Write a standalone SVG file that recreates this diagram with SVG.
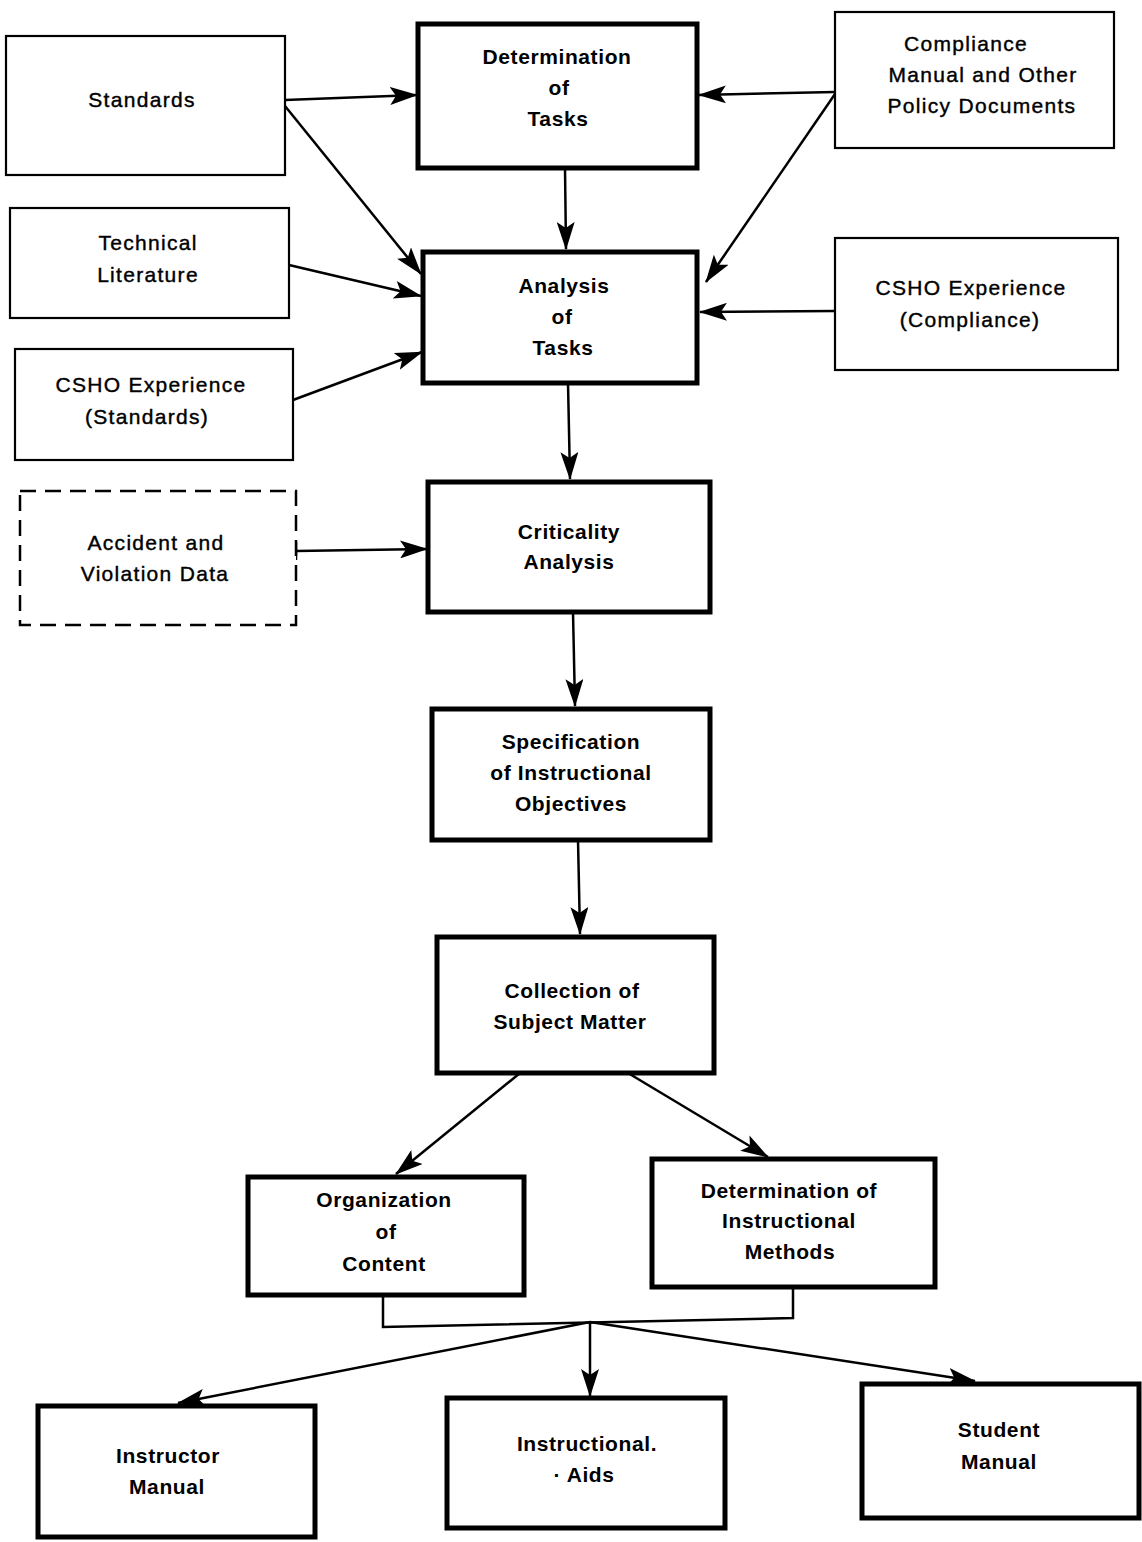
<svg xmlns="http://www.w3.org/2000/svg" width="1142" height="1542" viewBox="0 0 1142 1542">
<defs>
<marker id="ah" viewBox="0 0 28 18" refX="27" refY="9" markerWidth="28" markerHeight="18" markerUnits="userSpaceOnUse" orient="auto">
<path d="M0,0 L28,9 L0,18 L6,9 Z" fill="#000"/>
</marker>
<style>
.thin{fill:#fff;stroke:#000;stroke-width:2.2}
.thick{fill:#fff;stroke:#000;stroke-width:5}
.dash{fill:#fff;stroke:#000;stroke-width:2.5;stroke-dasharray:16 9}
.t{font-family:"Liberation Sans",Arial,sans-serif;font-size:21px;font-weight:bold;text-anchor:middle;fill:#000;letter-spacing:0.6px}
.tn{font-family:"Liberation Sans",Arial,sans-serif;font-size:21px;text-anchor:middle;fill:#000;letter-spacing:1.3px;stroke:#000;stroke-width:0.4}
.c{fill:none;stroke:#000;stroke-width:2.5;marker-end:url(#ah)}
.l{fill:none;stroke:#000;stroke-width:2.5}
</style>
</defs>
<rect width="1142" height="1542" fill="#fff"/>

<g id="connectors">
<line class="c" x1="285" y1="100" x2="417" y2="95"/>
<line class="c" x1="285" y1="106" x2="421" y2="274"/>
<line class="c" x1="289" y1="265" x2="421" y2="296"/>
<line class="c" x1="293" y1="400" x2="422" y2="352"/>
<line class="c" x1="835" y1="92" x2="699" y2="95"/>
<line class="c" x1="835" y1="94" x2="706" y2="282"/>
<line class="c" x1="835" y1="311" x2="700" y2="312"/>
<line class="c" x1="565" y1="168" x2="566" y2="249"/>
<line class="c" x1="568" y1="383" x2="570" y2="479"/>
<line class="l" x1="296" y1="542" x2="296" y2="560"/>
<line class="c" x1="296" y1="551" x2="427" y2="549"/>
<line class="c" x1="573" y1="612" x2="575" y2="706"/>
<line class="c" x1="578" y1="840" x2="580" y2="934"/>
<line class="c" x1="520" y1="1073" x2="396" y2="1174"/>
<line class="c" x1="628" y1="1073" x2="768" y2="1157"/>
<polyline class="l" points="383,1295 383,1327 793,1318 793,1287"/>
<line class="c" x1="590" y1="1322" x2="178" y2="1403"/>
<line class="c" x1="590" y1="1322" x2="590" y2="1396"/>
<line class="c" x1="590" y1="1322" x2="975" y2="1381"/>
</g>

<g id="standards">
<rect class="thin" x="6" y="36" width="279" height="139"/>
<text class="tn" x="142" y="107">Standards</text>
</g>
<g id="determination-of-tasks">
<rect class="thick" x="418" y="24" width="279" height="144"/>
<text class="t" x="557" y="64">Determination</text>
<text class="t" x="559" y="95">of</text>
<text class="t" x="558" y="126">Tasks</text>
</g>
<g id="compliance-manual">
<rect class="thin" x="835" y="12" width="279" height="136"/>
<text class="tn" x="966" y="51">Compliance</text>
<text class="tn" x="983" y="82">Manual and Other</text>
<text class="tn" x="982" y="113">Policy Documents</text>
</g>
<g id="technical-literature">
<rect class="thin" x="10" y="208" width="279" height="110"/>
<text class="tn" x="148" y="250">Technical</text>
<text class="tn" x="148" y="282">Literature</text>
</g>
<g id="analysis-of-tasks">
<rect class="thick" x="423" y="252" width="274" height="131"/>
<text class="t" x="564" y="293">Analysis</text>
<text class="t" x="562" y="324">of</text>
<text class="t" x="563" y="355">Tasks</text>
</g>
<g id="csho-compliance">
<rect class="thin" x="835" y="238" width="283" height="132"/>
<text class="tn" x="971" y="295">CSHO Experience</text>
<text class="tn" x="970" y="327">(Compliance)</text>
</g>
<g id="csho-standards">
<rect class="thin" x="15" y="349" width="278" height="111"/>
<text class="tn" x="151" y="392">CSHO Experience</text>
<text class="tn" x="147" y="424">(Standards)</text>
</g>
<g id="accident-data">
<rect class="dash" x="20" y="491" width="276" height="134"/>
<text class="tn" x="156" y="550">Accident and</text>
<text class="tn" x="155" y="581">Violation Data</text>
</g>
<g id="criticality-analysis">
<rect class="thick" x="428" y="482" width="282" height="130"/>
<text class="t" x="569" y="539">Criticality</text>
<text class="t" x="569" y="569">Analysis</text>
</g>
<g id="specification">
<rect class="thick" x="432" y="709" width="278" height="131"/>
<text class="t" x="571" y="749">Specification</text>
<text class="t" x="571" y="780">of Instructional</text>
<text class="t" x="571" y="811">Objectives</text>
</g>
<g id="collection">
<rect class="thick" x="437" y="937" width="277" height="136"/>
<text class="t" x="572" y="998">Collection of</text>
<text class="t" x="570" y="1029">Subject Matter</text>
</g>
<g id="organization">
<rect class="thick" x="248" y="1177" width="276" height="118"/>
<text class="t" x="384" y="1207">Organization</text>
<text class="t" x="386" y="1239">of</text>
<text class="t" x="384" y="1271">Content</text>
</g>
<g id="instructional-methods">
<rect class="thick" x="652" y="1159" width="283" height="128"/>
<text class="t" x="789" y="1198">Determination of</text>
<text class="t" x="789" y="1228">Instructional</text>
<text class="t" x="790" y="1259">Methods</text>
</g>
<g id="instructor-manual">
<rect class="thick" x="38" y="1406" width="277" height="131"/>
<text class="t" x="168" y="1463">Instructor</text>
<text class="t" x="167" y="1494">Manual</text>
</g>
<g id="instructional-aids">
<rect class="thick" x="447" y="1398" width="278" height="130"/>
<text class="t" x="587" y="1451">Instructional.</text>
<text class="t" x="584" y="1482">· Aids</text>
</g>
<g id="student-manual">
<rect class="thick" x="862" y="1384" width="277" height="134"/>
<text class="t" x="999" y="1437">Student</text>
<text class="t" x="999" y="1469">Manual</text>
</g>
</svg>
